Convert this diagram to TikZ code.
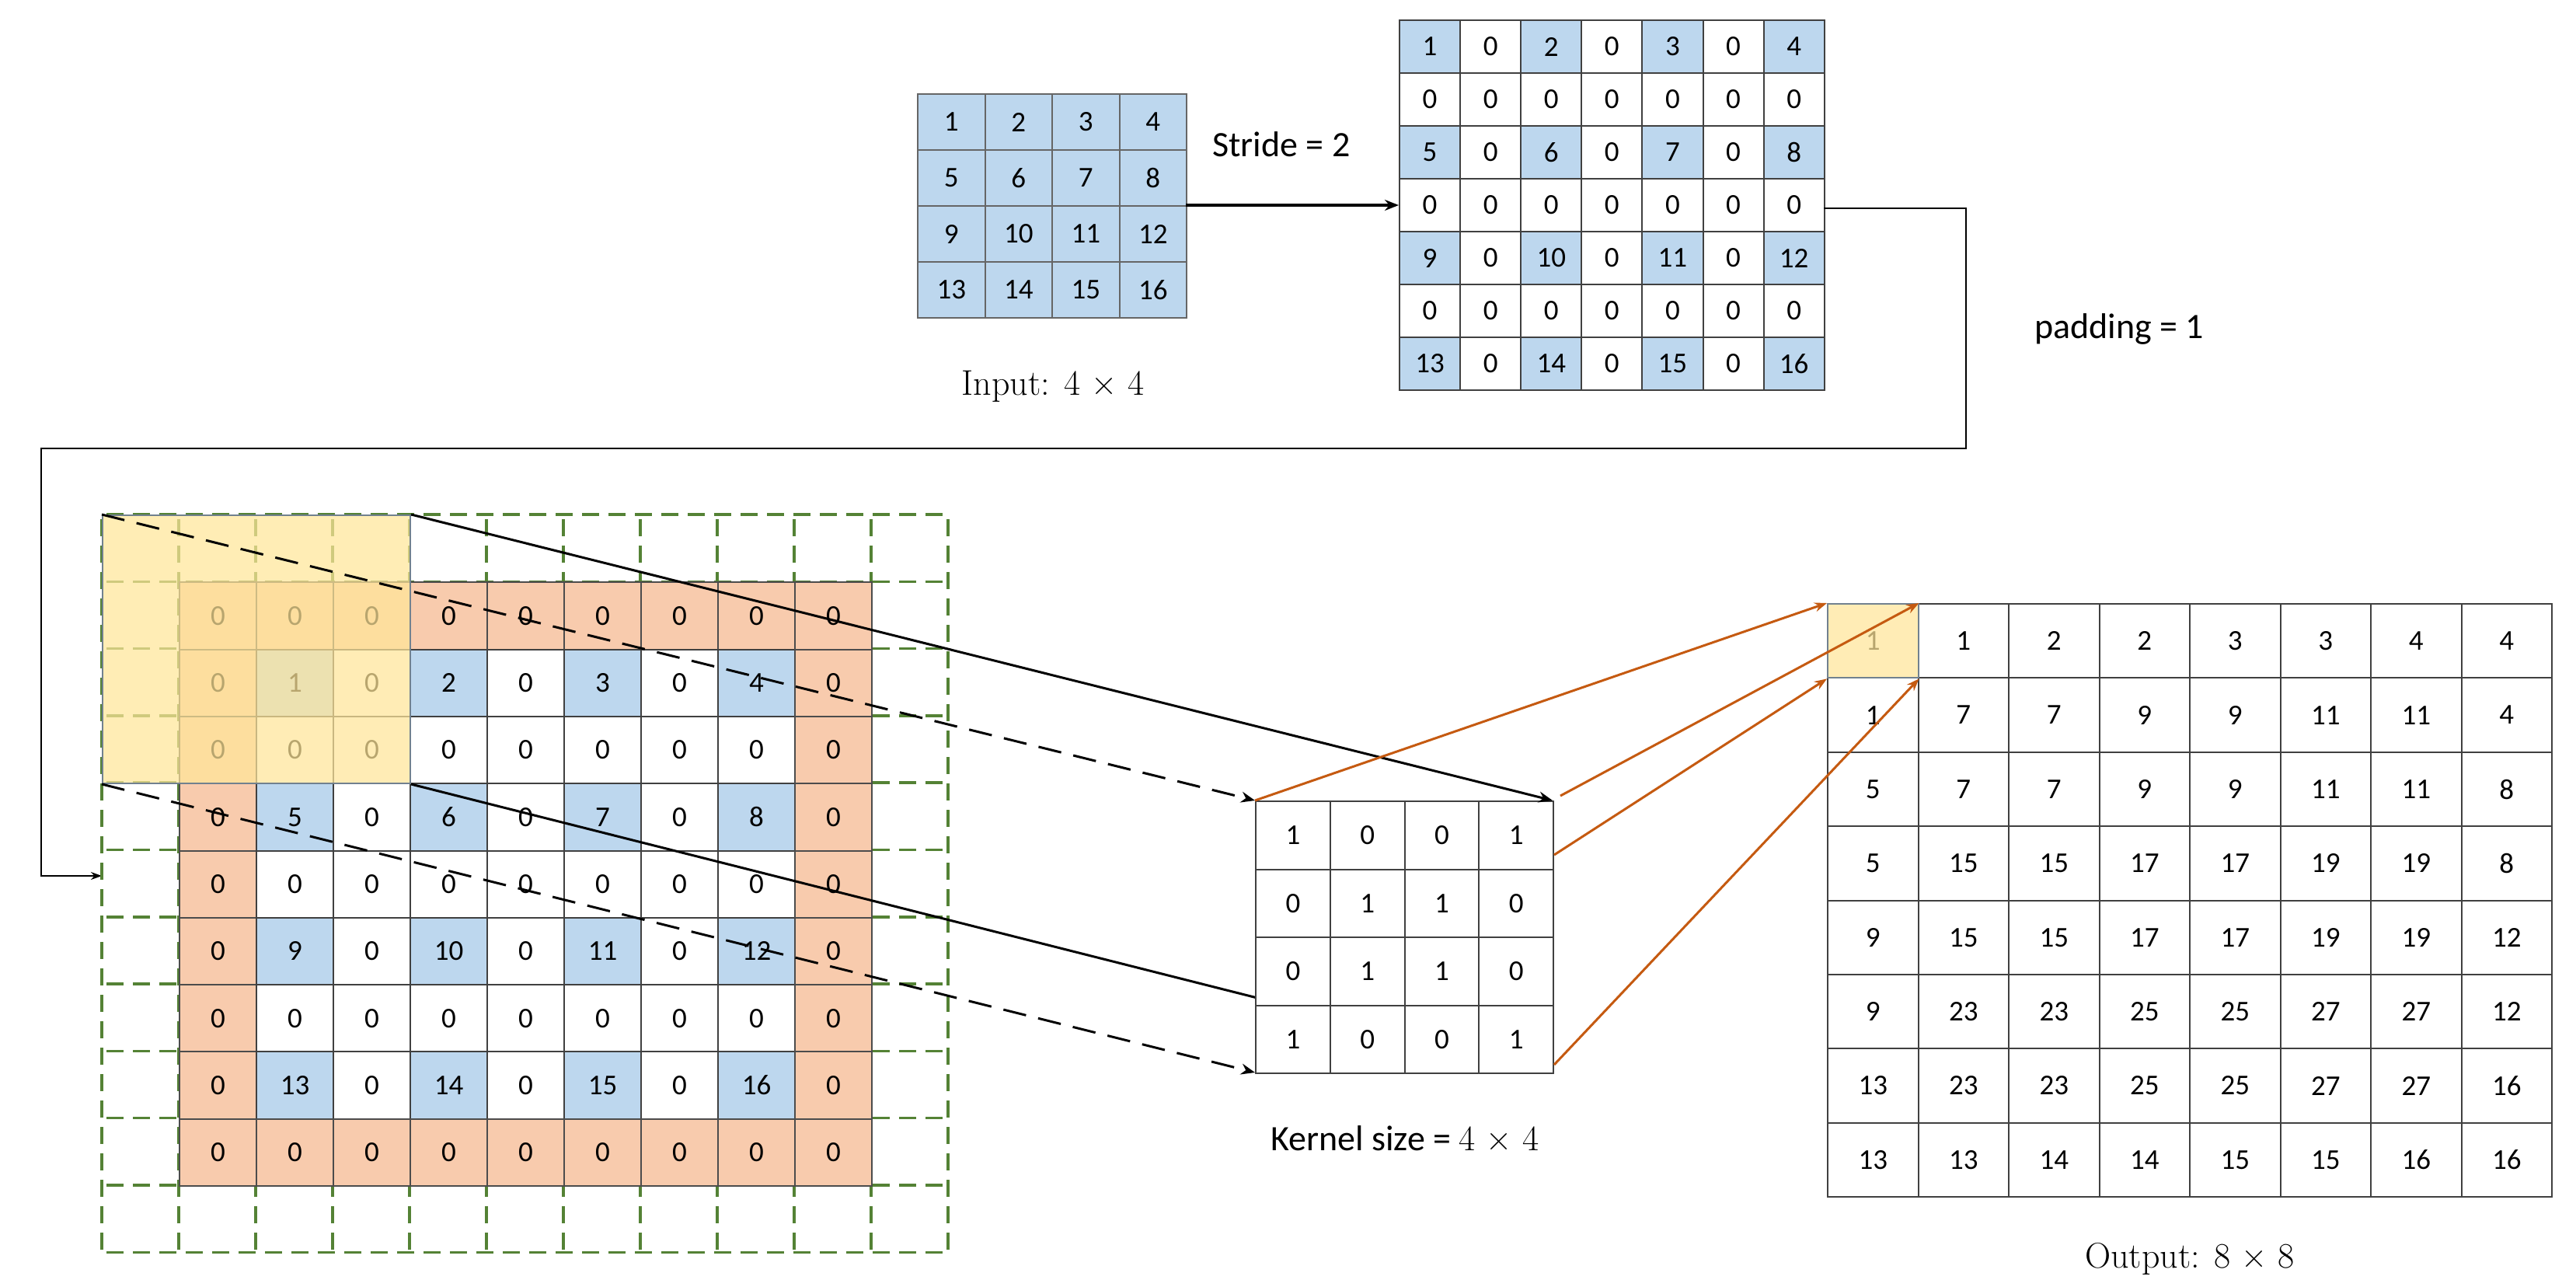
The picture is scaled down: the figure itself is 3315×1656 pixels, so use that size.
\documentclass[tikz,border=0pt]{standalone}
\usepackage{fontspec}
\setmainfont{Carlito}
\newfontfamily\lmr{Latin Modern Roman}
\usetikzlibrary{arrows.meta}
\definecolor{cblue}{HTML}{BDD7EE}
\definecolor{corange}{HTML}{F8CBAD}
\definecolor{cyellow}{HTML}{FFE699}
\definecolor{cgreen}{HTML}{548235}
\definecolor{cline}{HTML}{C55A11}
\tikzset{
 cell/.style={draw=black!75, line width=2pt, inner sep=0pt, font=\fontsize{37}{44}\selectfont, anchor=north west},
 lbl/.style={font=\fontsize{46}{54}\selectfont},
 slbl/.style={font=\lmr\fontsize{46}{54}\selectfont},
 conn/.style={line width=3pt},
 oarr/.style={draw=cline, line width=3pt, -{Stealth[length=16pt,width=12pt]}},
}
\begin{document}
\begin{tikzpicture}[x=1pt,y=-1pt]
\useasboundingbox (0,0) rectangle (3315,1656);
% input grid
\foreach \r in {0,1,2,3}{
 \foreach \c in {0,1,2,3}{
  \pgfmathtruncatemacro\v{\r*4+\c+1}
  \node[cell, fill=cblue, draw=black!60, minimum width=86.5pt, minimum height=72pt] (in-\r-\c) at (1180+\c*86.5,120+\r*72) {\v};
 }}
\coordinate (inR) at (1526,264);
\node[slbl] (inlab) at (1355,497) {Input: 4 × 4};
% stride grid
\foreach \r in {0,...,6}{
 \foreach \c in {0,...,6}{
  \pgfmathtruncatemacro\ro{mod(\r,2)}
  \pgfmathtruncatemacro\co{mod(\c,2)}
  \pgfmathtruncatemacro\v{(\r/2)*4+\c/2+1}
  \ifnum\ro=0 \ifnum\co=0
   \node[cell, fill=cblue, minimum width=78.1pt, minimum height=68pt] (st-\r-\c) at (1800+\c*78.1,25+\r*68) {\v};
  \else
   \node[cell, fill=white, minimum width=78.1pt, minimum height=68pt] (st-\r-\c) at (1800+\c*78.1,25+\r*68) {0};
  \fi\else
   \node[cell, fill=white, minimum width=78.1pt, minimum height=68pt] (st-\r-\c) at (1800+\c*78.1,25+\r*68) {0};
  \fi
 }}
\coordinate (stL) at (1800,264);
\draw[conn, -{Stealth[length=18pt,width=14pt]}] (inR) -- (stL);
\node[lbl] (stride) at (1649,186) {Stride = 2};
\node[lbl] (pad) at (2727,423) {padding = 1};
\coordinate (stR) at (2347,268);
\coordinate (dgL) at (131,1127);
\draw[line width=2pt, -{Stealth[length=14pt,width=10pt]}] (stR) -- (2530,268) -- (2530,577) -- (53,577) -- (53,1127) -- (dgL);
% dashed grid
\foreach \i in {0,...,11}{
 \draw[cgreen, line width=3.5pt, dash pattern=on 22pt off 12pt, dash phase=-6pt] (131+\i*99,662) -- (131+\i*99,1611);
 \draw[cgreen, line width=3.5pt, dash pattern=on 22pt off 12pt, dash phase=-6pt] (131,662+\i*86.3) -- (1220,662+\i*86.3);
}
% padded 9x9
\foreach \r in {0,...,8}{
 \foreach \c in {0,...,8}{
  \pgfmathtruncatemacro\edge{(\r==0)||(\r==8)||(\c==0)||(\c==8)}
  \pgfmathtruncatemacro\ro{mod(\r,2)}
  \pgfmathtruncatemacro\co{mod(\c,2)}
  \pgfmathtruncatemacro\v{((\r-1)/2)*4+(\c-1)/2+1}
  \ifnum\edge=1
   \node[cell, fill=corange, draw=black!70, minimum width=99pt, minimum height=86.3pt] (pd-\r-\c) at (230+\c*99,748.3+\r*86.3) {0};
  \else\ifnum\ro=1 \ifnum\co=1
   \node[cell, fill=cblue, minimum width=99pt, minimum height=86.3pt] (pd-\r-\c) at (230+\c*99,748.3+\r*86.3) {\v};
  \else
   \node[cell, fill=white, minimum width=99pt, minimum height=86.3pt] (pd-\r-\c) at (230+\c*99,748.3+\r*86.3) {0};
  \fi\else
   \node[cell, fill=white, minimum width=99pt, minimum height=86.3pt] (pd-\r-\c) at (230+\c*99,748.3+\r*86.3) {0};
  \fi\fi
 }}
% yellow window
\node[fill=cyellow, fill opacity=0.72, draw=cblue!60!black, line width=2pt, minimum width=396pt, minimum height=345pt, anchor=north west, inner sep=0pt] (win) at (131,662) {};
% kernel lines (behind kernel)
\coordinate (kTL) at (1615,1030);
\coordinate (kTR) at (1998,1030);
\coordinate (kBL) at (1615,1380);
\coordinate (kBR) at (1998,1380);
\draw[conn] (win.south east) -- (kBR);
% kernel
\foreach \r/\row in {0/{1,0,0,1},1/{0,1,1,0},2/{0,1,1,0},3/{1,0,0,1}}{
 \foreach \v [count=\c from 0] in \row{
  \node[cell, fill=white, minimum width=95.75pt, minimum height=87.5pt] (k-\r-\c) at (1615+\c*95.75,1030+\r*87.5) {\v};
 }}
\draw[conn, -{Stealth[length=18pt,width=14pt]}] (win.north east) -- (kTR);
\draw[conn, dash pattern=on 30pt off 16pt, -{Stealth[length=18pt,width=14pt]}] (win.north west) -- (kTL);
\draw[conn, dash pattern=on 30pt off 16pt, -{Stealth[length=18pt,width=14pt]}] (win.south west) -- (kBL);
\node[lbl] (klab) at (1808,1465) {Kernel size = \lmr 4 × 4};
% output grid
\foreach \r/\row in {0/{1,1,2,2,3,3,4,4},1/{1,7,7,9,9,11,11,4},2/{5,7,7,9,9,11,11,8},3/{5,15,15,17,17,19,19,8},4/{9,15,15,17,17,19,19,12},5/{9,23,23,25,25,27,27,12},6/{13,23,23,25,25,27,27,16},7/{13,13,14,14,15,15,16,16}}{
 \foreach \v [count=\c from 0] in \row{
  \node[cell, fill=white, minimum width=116.5pt, minimum height=95.4pt] (o-\r-\c) at (2351+\c*116.5,776+\r*95.4) {\v};
 }}
\node[fill=cyellow, fill opacity=0.72, draw=cblue!60!black, line width=2pt, minimum width=116.5pt, minimum height=95.4pt, anchor=north west, inner sep=0pt] (owin) at (2351,776) {};
\node[slbl] (olab) at (2818,1620) {Output: 8 × 8};
% orange arrows
\coordinate (kR1) at (2000,1100);
\draw[oarr] (kTL) -- (owin.north west);
\draw[oarr] (2008,1024) -- (owin.north east);
\draw[oarr] (kR1) -- (owin.south west);
\draw[oarr] (2000,1370) -- (owin.south east);
\end{tikzpicture}
\end{document}
